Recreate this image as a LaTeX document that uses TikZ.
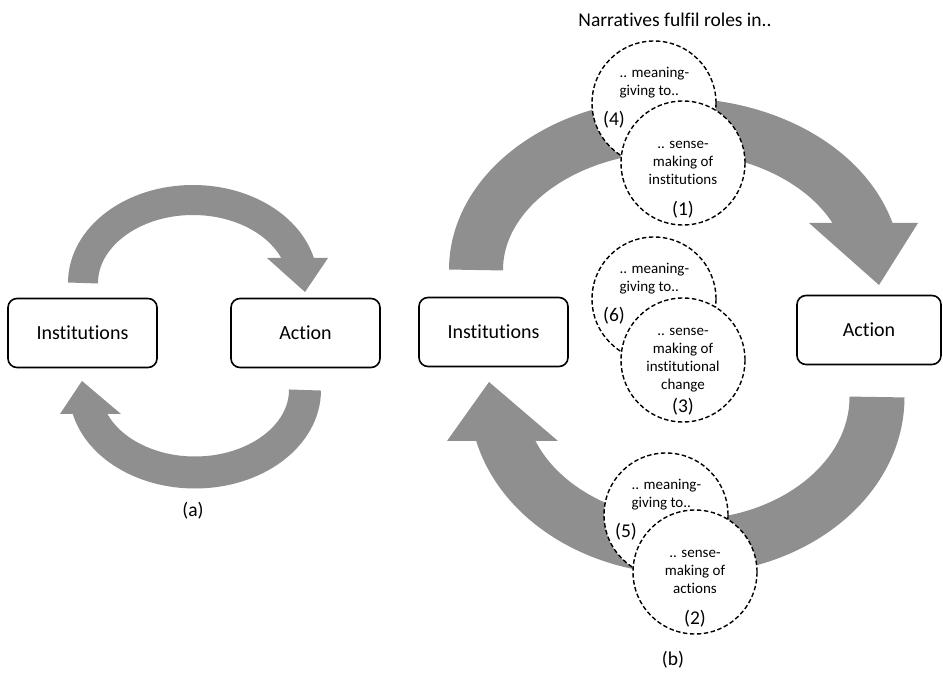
\documentclass[tikz,border=0pt]{standalone}
\usepackage{fontspec}
\setmainfont{Carlito}[Ligatures=NoCommon]
\definecolor{arrowgrey}{RGB}{143,143,143}
\tikzset{
  box/.style={draw, line width=1.6pt, rounded corners=9pt, fill=white,
    minimum width=149pt, minimum height=69pt, font=\fontsize{20}{24}\selectfont},
  band/.style={draw=arrowgrey, line width=#1},
  head/.style={fill=arrowgrey},
  dcirc/.style={circle, draw, dash pattern=on 4.5pt off 2.5pt, line width=1.4pt,
    fill=white, minimum size=124pt, inner sep=0pt},
  ctext/.style={align=center, font=\fontsize{15}{18}\selectfont},
  ltext/.style={anchor=west, align=left, font=\fontsize{15}{18}\selectfont},
  numlbl/.style={font=\fontsize{19.5}{22}\selectfont},
}
\begin{document}
\begin{tikzpicture}[x=1pt, y=-1pt]
  \useasboundingbox (0,0) rectangle (943,684);
  % (a)
  \draw[band=30pt] (83,283) arc[start angle=180, end angle=348, x radius=110, y radius=83];
  \fill[head] (267,258) -- (328,258) -- (305,292) -- cycle;
  \draw[band=32pt] (305,390) arc[start angle=0, end angle=168, x radius=110, y radius=82.5];
  \fill[head] (60,414) -- (121,414) -- (82,381) -- cycle;
  \node[box] (inst1) at (82.5,333) {Institutions};
  \node[box] (act1) at (305.5,333) {Action};
  \node[numlbl] (capa) at (193,511) {(a)};
  % (b)
  \draw[band=54pt] (476,270) arc[start angle=180, end angle=346, x radius=199, y radius=145];
  \fill[head] (809,223) -- (918,223) -- (879,285) -- cycle;
  \draw[band=55pt] (877,397) arc[start angle=0, end angle=168, x radius=190, y radius=150];
  \fill[head] (447,441) -- (558,441) -- (489,382) -- cycle;
  \node[box] (inst2) at (493.5,332) {Institutions};
  \node[box, minimum width=144pt] (act2) at (869,330) {Action};
  \node[font=\fontsize{19.5}{23}\selectfont] (title) at (675,20) {Narratives fulfil roles in..};
  \foreach \nm/\x/\y/\lab in {m4/654/103/4, m6/654/299/6, m5/666/515/5} {
    \node[dcirc] (\nm) at (\x,\y) {};
    \node[ltext] at ([shift={(-38,-20)}]\nm.center) {.. meaning-\\giving to..};
    \node[numlbl] at ([shift={(-40,17)}]\nm.center) {(\lab)};
  }
  \node[dcirc, ctext] (s1) at (683,163) {.. sense-\\making of\\institutions};
  \node[dcirc, ctext] (s3) at (683,360) {.. sense-\\making of\\institutional\\change};
  \node[dcirc, ctext] (s2) at (695,572) {.. sense-\\making of\\actions};
  \foreach \s/\lab in {s1/1, s3/3, s2/2}
    \node[numlbl] at ([shift={(0,47)}]\s.center) {(\lab)};
  \node[numlbl] (capb) at (673,660) {(b)};
\end{tikzpicture}
\end{document}
